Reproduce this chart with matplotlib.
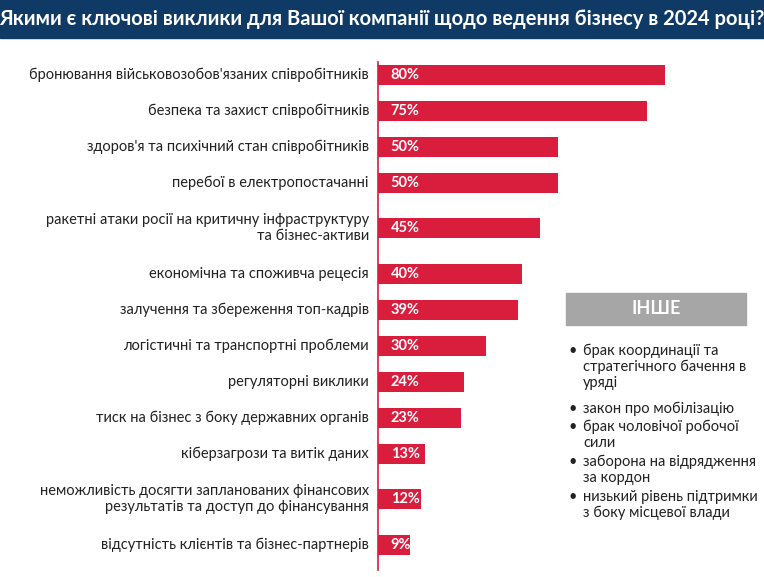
import matplotlib
matplotlib.use("Agg")
import matplotlib.pyplot as plt
from matplotlib.patches import Rectangle

categories = [
    "бронювання військовозобов'язаних співробітників",
    "безпека та захист співробітників",
    "здоров'я та психічний стан співробітників",
    "перебої в електропостачанні",
    "ракетні атаки росії на критичну інфраструктуру\nта бізнес-активи",
    "економічна та споживча рецесія",
    "залучення та збереження топ-кадрів",
    "логістичні та транспортні проблеми",
    "регуляторні виклики",
    "тиск на бізнес з боку державних органів",
    "кіберзагрози та витік даних",
    "неможливість досягти запланованих фінансових\nрезультатів та доступ до фінансування",
    "відсутність клієнтів та бізнес-партнерів",
]
values = [80, 75, 50, 50, 45, 40, 39, 30, 24, 23, 13, 12, 9]
title = "Якими є ключові виклики для Вашої компанії щодо ведення бізнесу в 2024 році?"
other_title = "ІНШЕ"
other_items = [
    "брак координації та\nстратегічного бачення в\nуряді",
    "закон про мобілізацію",
    "брак чоловічої робочої\nсили",
    "заборона на відрядження\nза кордон",
    "низький рівень підтримки\nз боку місцевої влади",
]

plt.rcParams['font.family'] = ['Lato', 'DejaVu Sans']
W, H = 764, 577
fig = plt.figure(figsize=(W/100, H/100), dpi=100)
RED = "#d81e3c"
NAVY = "#0f3a66"

# title bar
fig.patches.append(Rectangle((0, 1-38/H), 1, 38/H, transform=fig.transFigure, color=NAVY))
fig.text(0.5, 1-19/H, title, color="white", fontsize=14.5, ha="center", va="center", fontweight="bold")

# positions
pos = []
y = 75
for i, c in enumerate(categories):
    two = "\n" in c
    if i > 0:
        prev_two = "\n" in categories[i-1]
        y += 36 + (9 if two else 0) + (10 if prev_two else 0)
    pos.append(y)

x0 = 378
ax = fig.add_axes([x0/W, 0, 359/W, 1])
ax.set_xlim(0, 100)
ax.set_ylim(H, 0)
ax.axis("off")
ax.barh(pos, values, height=20, color=RED)
ax.plot([0, 0], [62, 570], color=RED, lw=1.2, clip_on=False)
for p, v, c in zip(pos, values, categories):
    ax.text(3.5, p, f"{v}%", color="white", fontweight="bold", fontsize=10.5, va="center")
    fig.text((x0-9)/W, 1-p/H, c, ha="right", va="center", fontsize=10.5, color="#222222", linespacing=1.25)

# other box
fig.patches.append(Rectangle((566/W, 1-325/H), 180/W, 32/H, transform=fig.transFigure, color="#a6a6a6"))
fig.text(656/W, 1-309/H, other_title, color="white", fontweight="bold", fontsize=13, ha="center", va="center")
ys = [344, 402, 420, 455, 490]
for yy, it in zip(ys, other_items):
    fig.text(569/W, 1-yy/H, "•", fontsize=10.5, va="top", color="#222222")
    fig.text(583/W, 1-yy/H, it, fontsize=10.5, va="top", color="#222222", linespacing=1.15)

fig.savefig("out.png", dpi=100)
